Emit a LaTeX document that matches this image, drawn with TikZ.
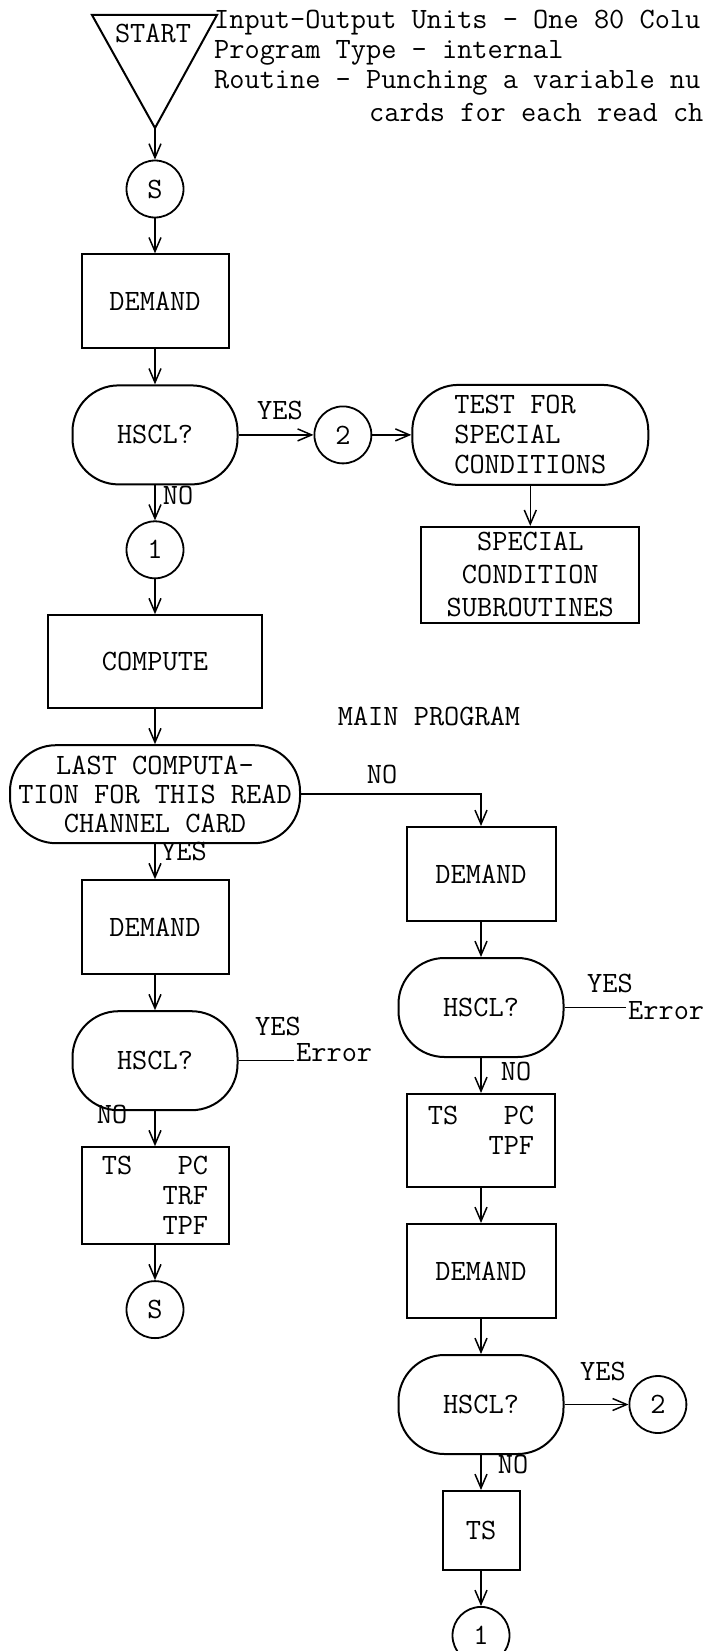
\documentclass[tikz,border=0pt]{standalone}
\usetikzlibrary{arrows.meta,positioning}
\newcommand{\lblfont}{\fontsize{29.5}{30}\selectfont\ttfamily}

\begin{document}
\begin{tikzpicture}[x=1pt, y=-1pt, node distance=35pt,
  every node/.style={font=\lblfont, inner sep=2pt},
  proc/.style={draw, line width=2pt, minimum width=147pt, minimum height=94pt, align=center},
  test/.style={draw, line width=2pt, rounded corners=46pt, minimum width=165pt,
               minimum height=99pt, align=center},
  conn/.style={draw, circle, line width=1.8pt, minimum size=57pt, inner sep=0pt},
  ar/.style={-{Straight Barb[length=14pt,width=12pt]}, line width=1.5pt}]
\useasboundingbox (0,0) rectangle (710,1651);

% start and header
\draw[line width=2pt] (92,15) -- (217,15) -- (155,128) -- cycle;
\coordinate (tip) at (155,128);
\node (start) at (153,33) {START};
\node[anchor=west] (hd1) at (212,23)  {Input-Output Units - One 80 Colu};
\node[anchor=west] (hd2) at (212,53)  {Program Type - internal};
\node[anchor=west] (hd3) at (212,83)  {Routine - Punching a variable nu};
\node[anchor=west] (hd4) at (367,112) {cards for each read ch};

% left column
\node[conn] (s1) at (155,189) {S};
\node[proc, below=of s1] (dem1) {DEMAND};
\node[test, below=of dem1] (hs1) {HSCL?};
\node[conn, below=of hs1] (c1) {1};
\node[proc, below=of c1, minimum width=214pt, minimum height=93pt] (comp) {COMPUTE};
\node[test, below=of comp, minimum width=290pt, minimum height=98pt,
      font=\fontsize{29.5}{29}\selectfont\ttfamily] (last)
      {LAST COMPUTA-\\TION FOR THIS READ\\CHANNEL CARD};
\node[proc, below=of last] (demL) {DEMAND};
\node[test, below=of demL] (hsL) {HSCL?};
\node[proc, below=of hsL, minimum height=97pt, align=left] (tsL)
      {TS\phantom{XXX}PC\\\phantom{XXXX}TRF\\\phantom{XXXX}TPF};
\node[conn, below=of tsL] (sL) {S};

% special conditions branch
\node[conn, right=75pt of hs1] (c2) {2};
\node[test, right=39pt of c2, minimum width=236pt, minimum height=100pt, align=left,
      font=\fontsize{29.5}{30}\selectfont\ttfamily] (tst) {TEST FOR\\SPECIAL\\CONDITIONS};
\node[proc, below=40pt of tst, minimum width=218pt, minimum height=96pt,
      font=\fontsize{29.5}{33}\selectfont\ttfamily] (sub) {SPECIAL\\CONDITION\\SUBROUTINES};

\node (main) at (429,716) {MAIN PROGRAM};

% right column
\node[proc, minimum width=149pt] (demR) at (481,874) {DEMAND};
\node[test, below=of demR] (hsR) {HSCL?};
\node[proc, below=of hsR, minimum width=148pt, minimum height=93pt, align=left,
      text depth=20pt] (tsR) {TS\phantom{XXX}PC\\\phantom{XXXX}TPF};
\node[proc, below=of tsR, minimum width=149pt] (demR2) {DEMAND};
\node[test, below=of demR2] (hsR2) {HSCL?};
\node[proc, below=of hsR2, minimum width=77pt, minimum height=79pt] (tsB) {TS};
\node[conn, below=of tsB] (c1b) {1};
\node[conn, right=64pt of hsR2] (c2b) {2};

% branch labels
\node (y1)  at (280,410)  {YES};
\node (n1)  at (178,495)  {NO};
\node (nL)  at (382,774)  {NO};
\node (yL)  at (184,851)  {YES};
\node (yE1) at (278,1026) {YES};
\node (nE1) at (112,1114) {NO};
\node (yE2) at (610,983)  {YES};
\node (nE2) at (516,1071) {NO};
\node (yB)  at (603,1371) {YES};
\node (nB)  at (513,1464) {NO};
\node[anchor=west] (errL) at (294,1053) {Error};
\node[anchor=west] (errR) at (626,1011) {Error};

\draw[ar] (tip) -- (s1);
\foreach \a/\b in {s1/dem1,dem1/hs1,hs1/c1,c1/comp,comp/last,last/demL,demL/hsL,hsL/tsL,
  tsL/sL,hs1/c2,c2/tst,tst/sub,demR/hsR,hsR/tsR,tsR/demR2,demR2/hsR2,hsR2/tsB,tsB/c1b,hsR2/c2b}
  \draw[ar] (\a) -- (\b);
\draw[ar] (last) -| (demR);
\draw[line width=1.5pt] (hsL) -- (hsL -| errL.west);
\draw[line width=1.5pt] (hsR) -- (hsR -| errR.west);
\end{tikzpicture}
\end{document}
